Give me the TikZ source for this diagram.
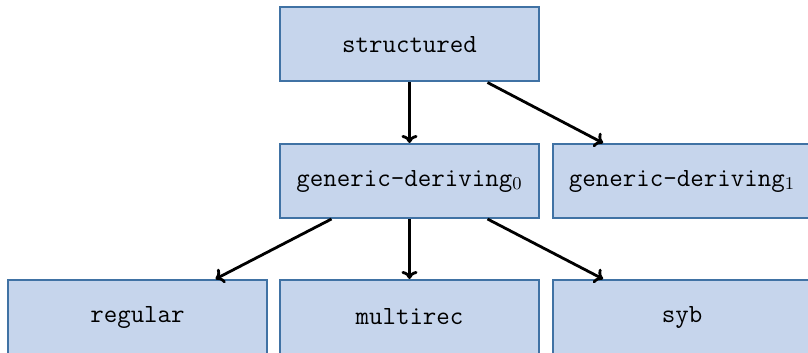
\documentclass[tikz,border=0pt]{standalone}
\usetikzlibrary{calc,arrows.meta}
\definecolor{boxfill}{RGB}{198,213,236}
\definecolor{boxline}{RGB}{64,114,164}
\begin{document}
\begin{tikzpicture}[x=0.5pt,y=-0.5pt,
  pkg/.style={draw=boxline,fill=boxfill,line width=1pt,minimum width=129.5pt,minimum height=37pt,inner sep=0pt,font=\ttfamily\fontsize{13.1}{16}\selectfont},
  dep/.style={-{To[length=4pt,width=8pt]},line width=1.4pt,black}]
\clip (0,0) rectangle (808,353);
\node[pkg] (s) at (409.5,44.5) {structured};
\node[pkg] (g0) at (409.5,181) {generic-deriving$_0$};
\node[pkg] (g1) at (682,181) {generic-deriving$_1$};
\node[pkg] (r) at (137.5,317) {regular};
\node[pkg] (m) at (409.5,317) {multirec};
\node[pkg] (y) at (682,317) {syb};
\draw[dep] (s.south) -- (g0.north);
\draw[dep] ($(s.south)+(78,0)$) -- ($(g1.north)+(-79,0)$);
\draw[dep] ($(g0.south)+(-78,0)$) -- ($(r.north)+(78,0)$);
\draw[dep] (g0.south) -- (m.north);
\draw[dep] ($(g0.south)+(78,0)$) -- ($(y.north)+(-79,0)$);
\end{tikzpicture}
\end{document}
